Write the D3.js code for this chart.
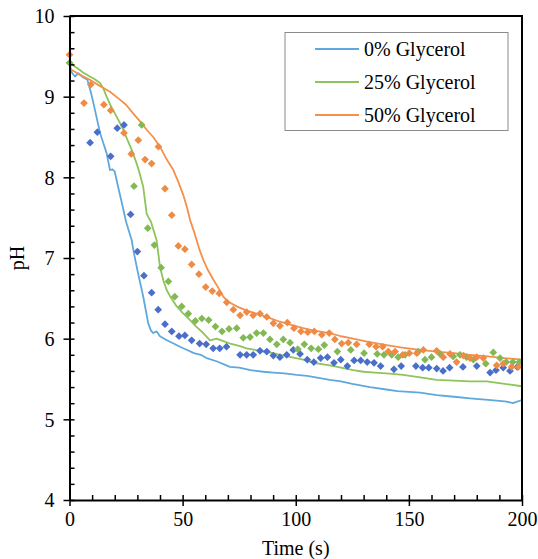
<!DOCTYPE html>
<html>
<head>
<meta charset="utf-8">
<script src="https://cdn.jsdelivr.net/npm/d3@7"></script>
<style>
  html, body { margin: 0; padding: 0; background: #fff; }
  svg { display: block; }
  text { font-family: "Liberation Serif", "Times New Roman", serif; fill: #000; }
</style>
</head>
<body>
<svg id="chart" width="538" height="559"></svg>
<script>
// Series labels
const seriesNames = ["0% Glycerol", "25% Glycerol", "50% Glycerol"];

// Model curves: [time (s), pH]
const line0 = [[0,9.41],[1,9.30],[2.4,9.25],[3.9,9.29],[6,9.24],[7.9,9.21],[9.5,9.05],[11.3,8.83],[13.5,8.55],[15,8.42],[16.4,8.30],[17.9,8.09],[19,8.10],[20,8.07],[21.5,7.88],[23,7.70],[25,7.45],[27.5,7.22],[28.2,7.10],[30,6.85],[32.6,6.52],[34.8,6.19],[36,6.10],[37,6.07],[38.5,6.09],[40,6.03],[43,5.98],[46,5.94],[48.8,5.90],[52,5.86],[55,5.82],[58,5.80],[60.6,5.76],[65,5.72],[70.9,5.65],[75,5.64],[80,5.61],[85.7,5.59],[90,5.58],[95,5.57],[100.4,5.55],[105,5.54],[110.7,5.51],[115,5.49],[120,5.47],[125,5.44],[132.8,5.40],[140,5.37],[145,5.35],[150,5.34],[155,5.33],[162.3,5.30],[170,5.28],[177,5.26],[185,5.24],[190,5.23],[193.2,5.22],[196,5.20],[199.9,5.24]];
const line25 = [[0,9.45],[2,9.38],[4.6,9.33],[6,9.30],[9,9.25],[11,9.22],[13.5,9.17],[15,9.10],[16.4,9.00],[18,8.90],[20.1,8.79],[22,8.69],[23.8,8.59],[25.5,8.47],[27.5,8.34],[29.7,8.17],[31,8.05],[32.6,7.88],[34.1,7.55],[34.8,7.51],[36,7.45],[38.5,7.22],[40,6.89],[41.5,6.72],[43,6.60],[45,6.50],[47.4,6.40],[50,6.32],[53.3,6.23],[56,6.15],[59.1,6.07],[62.1,5.98],[65,6.00],[68,5.97],[71,5.94],[75,5.91],[78.3,5.88],[82,5.86],[85.7,5.84],[90,5.82],[93,5.80],[98,5.77],[103.3,5.74],[108,5.70],[115,5.67],[120,5.64],[125.4,5.61],[130,5.59],[135,5.58],[140,5.57],[147.5,5.55],[155,5.52],[162.3,5.49],[170,5.48],[177,5.47],[184.4,5.47],[190,5.45],[195,5.43],[199.9,5.41]];
const line50 = [[0,9.35],[4,9.28],[9,9.21],[13,9.14],[17.9,9.06],[22,8.97],[25,8.90],[28.2,8.79],[31,8.70],[34.1,8.59],[37,8.50],[40,8.38],[43,8.22],[45.9,8.09],[48,7.95],[50.3,7.78],[52,7.62],[53.3,7.47],[55,7.33],[56.2,7.22],[57.5,7.10],[59.1,6.98],[61,6.86],[63.6,6.73],[66,6.62],[68,6.52],[70,6.46],[73.9,6.40],[78,6.35],[82.7,6.31],[88,6.26],[93,6.21],[98,6.17],[103.3,6.13],[108,6.10],[115,6.07],[120,6.03],[125.4,6.00],[132,5.96],[140.2,5.92],[147,5.89],[154.9,5.86],[162,5.84],[170,5.82],[177,5.80],[185,5.78],[192,5.76],[199.9,5.74]];

// Measured points: [time (s), pH]
const points0 = [[9.1,8.43],[12.3,8.56],[18.2,8.26],[21.1,8.61],[24.1,8.65],[27,7.54],[30,7.08],[32.9,6.78],[36.3,6.57],[39.2,6.36],[42.2,6.18],[45.2,6.09],[48.4,6.03],[51,6.04],[54,5.98],[57.5,5.94],[60.4,5.93],[63.5,5.88],[66.4,5.88],[69.4,5.90],[75.4,5.80],[78.3,5.80],[81.2,5.80],[84.2,5.85],[87.2,5.84],[90.1,5.79],[93,5.77],[96,5.80],[98.9,5.86],[101.9,5.81],[105.1,5.74],[108,5.71],[111,5.76],[114,5.77],[116.9,5.70],[119.9,5.74],[122.8,5.66],[125.8,5.73],[128.7,5.73],[131.6,5.71],[134.6,5.70],[137.5,5.66],[143.4,5.62],[146.6,5.66],[153.1,5.66],[156.1,5.64],[158.8,5.64],[162.3,5.63],[165.1,5.60],[168,5.64],[173.9,5.65],[180,5.66],[185.9,5.58],[188.5,5.61],[191.7,5.64],[194.7,5.60],[197.9,5.65]];
const points25 = [[0,9.42],[28.5,7.89],[31.9,8.65],[34.6,7.37],[37.5,7.16],[40.5,6.88],[43.7,6.71],[46.5,6.52],[49.6,6.40],[52.5,6.31],[55.6,6.22],[58.5,6.25],[61.5,6.23],[64.5,6.15],[67.4,6.09],[70.5,6.12],[73.9,6.13],[76.8,6.01],[79.8,6.02],[82.7,6.07],[85.7,6.07],[88.6,5.99],[91.6,5.93],[94.5,5.99],[97.5,5.95],[100.9,5.87],[103.8,5.93],[106.8,5.88],[110,5.87],[112.6,5.92],[118.4,5.84],[124.3,5.86],[130.2,5.82],[136,5.81],[139,5.80],[142.4,5.80],[145.3,5.77],[148.3,5.80],[154.2,5.84],[157.1,5.74],[160,5.77],[163.8,5.81],[169.6,5.78],[172.6,5.80],[175.5,5.77],[178.5,5.74],[184,5.69],[187.3,5.83],[190.3,5.76],[193,5.71],[195.9,5.71],[198.8,5.71]];
const points50 = [[0,9.52],[6.4,8.92],[9.4,9.15],[15.2,8.90],[18.2,8.83],[24.1,8.55],[27.3,8.29],[30.4,8.46],[33.4,8.22],[36.3,8.17],[39.3,8.38],[42.2,7.86],[45.2,7.53],[48.1,7.15],[51,7.11],[54,6.92],[57.2,6.80],[60.2,6.64],[63.1,6.59],[66.2,6.56],[69.5,6.45],[72.4,6.36],[75.4,6.29],[78.3,6.33],[81.2,6.29],[84.2,6.31],[87.2,6.27],[90.1,6.19],[93,6.16],[96.3,6.20],[99.2,6.13],[102.3,6.09],[105.3,6.08],[108.2,6.09],[111.5,6.05],[114.8,6.07],[117.3,5.99],[120.3,5.94],[123.2,5.95],[126.9,5.93],[132.5,5.93],[135.5,5.90],[138.4,5.90],[140.9,5.84],[143.9,5.84],[147.3,5.80],[150.2,5.82],[153.5,5.82],[156.4,5.86],[162.3,5.85],[165.2,5.77],[168.2,5.81],[171.1,5.71],[174.1,5.79],[177,5.76],[180,5.77],[182.9,5.76],[188.8,5.67],[191.7,5.69],[195.4,5.65],[198.4,5.65]];

// Axis ticks
const xMajorTicks = [0, 50, 100, 150, 200];
const xMinorTicks = d3.range(0, 201, 10);
const yMajorTicks = [4, 5, 6, 7, 8, 9, 10];
const yMinorTicks = d3.range(4, 10.001, 0.2).map(v => +v.toFixed(1));

const lineColors  = ["#5fa8de", "#8ec45a", "#f5904c"];
const pointColors = ["#4a6fc8", "#82b955", "#f08a45"];

const FONT = "Liberation Serif, Times New Roman, serif";

const svg = d3.select("#chart");
const margin = { left: 69.5, right: 16, top: 16, bottom: 59 };
const W = 538, H = 559;
const x = d3.scaleLinear().domain([0, 200]).range([margin.left, W - margin.right]);
const y = d3.scaleLinear().domain([4, 10]).range([H - margin.bottom, margin.top]);

// Curves
const lineGen = d3.line().x(d => x(d[0])).y(d => y(d[1]));
const g = svg.append("g");
[line0, line25, line50].forEach((data, i) => {
  g.append("path").datum(data)
    .attr("d", lineGen)
    .attr("fill", "none")
    .attr("stroke", lineColors[i])
    .attr("stroke-width", 1.8)
    .attr("stroke-linejoin", "round");
});

// Diamond markers
const diamond = d3.symbol().type(d3.symbolSquare).size(30);
[points0, points25, points50].forEach((data, i) => {
  g.append("g").selectAll("path").data(data).join("path")
    .attr("d", diamond)
    .attr("transform", d => `translate(${x(d[0])},${y(d[1])}) rotate(45)`)
    .attr("fill", pointColors[i]);
});

// Minor ticks (inward)
svg.append("g")
  .attr("transform", `translate(0,${y(4)})`)
  .call(d3.axisTop(x).tickValues(xMinorTicks).tickSize(5).tickFormat(""))
  .call(a => a.select(".domain").remove())
  .selectAll("line").attr("stroke", "#000").attr("stroke-width", 1.5);
svg.append("g")
  .attr("transform", `translate(${x(0)},0)`)
  .call(d3.axisRight(y).tickValues(yMinorTicks).tickSize(5).tickFormat(""))
  .call(a => a.select(".domain").remove())
  .selectAll("line").attr("stroke", "#000").attr("stroke-width", 1.5);

// Major axes (outward ticks with labels)
const xAxis = svg.append("g")
  .attr("transform", `translate(0,${y(4)})`)
  .call(d3.axisBottom(x).tickValues(xMajorTicks).tickFormat(d3.format("d"))
    .tickSize(6).tickSizeOuter(0).tickPadding(6));
const yAxis = svg.append("g")
  .attr("transform", `translate(${x(0)},0)`)
  .call(d3.axisLeft(y).tickValues(yMajorTicks).tickFormat(d3.format("d"))
    .tickSize(6).tickSizeOuter(0).tickPadding(9));
[xAxis, yAxis].forEach(a => {
  a.attr("font-family", FONT).attr("font-size", 20);
  a.selectAll("text").attr("font-family", FONT).attr("font-size", 20).attr("fill", "#000");
  a.select(".domain").attr("stroke", "#000").attr("stroke-width", 2);
  a.selectAll("line").attr("stroke", "#000").attr("stroke-width", 1.5);
});
yAxis.selectAll("text").attr("dy", "0.34em");

// Plot frame (top and right)
svg.append("path")
  .attr("d", `M${x(0)},${y(10)}H${x(200)}V${y(4)}`)
  .attr("fill", "none").attr("stroke", "#000").attr("stroke-width", 2);

// Axis titles
svg.append("text")
  .attr("x", (x(0) + x(200)) / 2).attr("y", 555)
  .attr("text-anchor", "middle").attr("font-size", 20)
  .text("Time (s)");
svg.append("text")
  .attr("transform", `translate(24,${(y(4) + y(10)) / 2}) rotate(-90)`)
  .attr("text-anchor", "middle").attr("font-size", 20)
  .text("pH");

// Legend
const legend = svg.append("g");
legend.append("rect")
  .attr("x", 285).attr("y", 32.5).attr("width", 223).attr("height", 98)
  .attr("fill", "#fff").attr("stroke", "#8a8a8a").attr("stroke-width", 1);
seriesNames.forEach((name, i) => {
  const ly = 49 + i * 33;
  legend.append("line")
    .attr("x1", 315).attr("x2", 359).attr("y1", ly).attr("y2", ly)
    .attr("stroke", lineColors[i]).attr("stroke-width", 1.8);
  legend.append("text")
    .attr("x", 364).attr("y", ly).attr("dy", "0.35em")
    .attr("font-size", 20).text(name);
});
</script>
</body>
</html>
